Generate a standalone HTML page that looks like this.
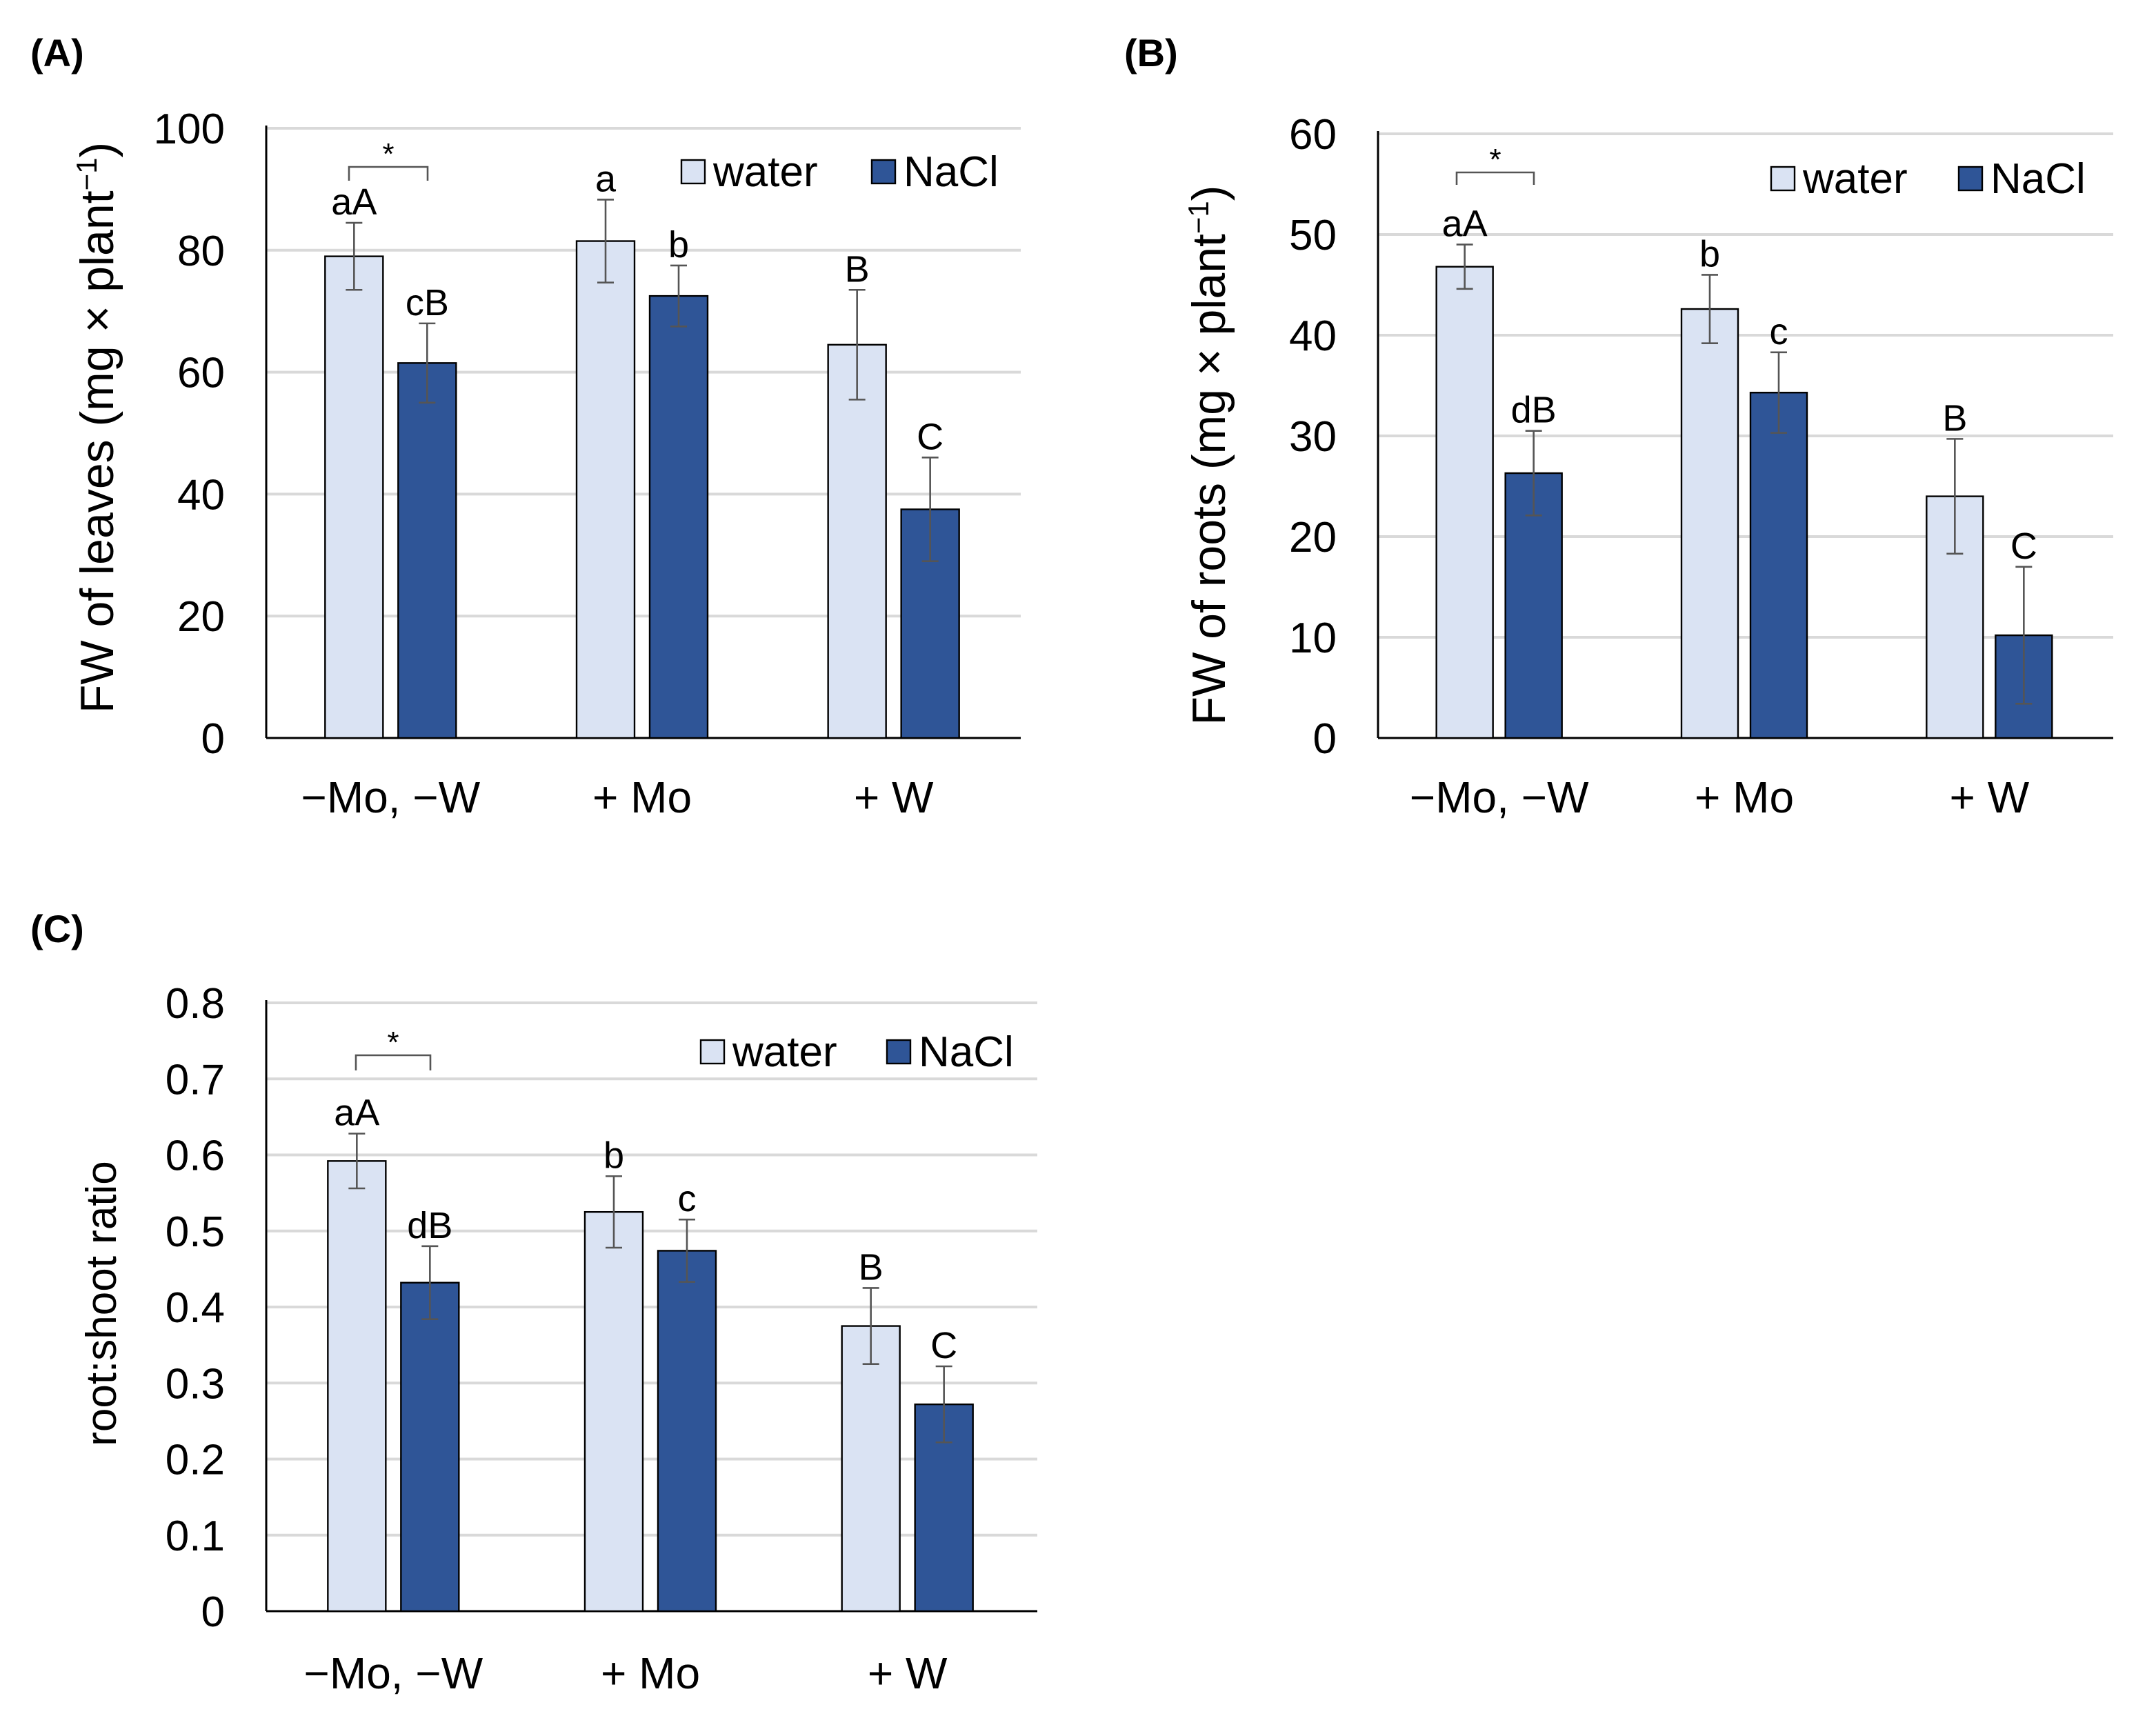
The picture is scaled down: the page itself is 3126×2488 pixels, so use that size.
<!DOCTYPE html>
<html><head><meta charset="utf-8"><style>
html,body{margin:0;padding:0;background:#fff}
svg{display:block}
text{font-family:"Liberation Sans",Arial,sans-serif;fill:#000}
</style></head><body>
<svg id="chart" width="3126" height="2488" viewBox="0 0 1563 1244" xmlns="http://www.w3.org/2000/svg"></svg>
<script>
const categories = ["\u2212Mo, \u2212W", "+ Mo", "+ W"];
const seriesNames = ["water", "NaCl"];
const aWater = [79, 81.5, 64.5];
const aNacl = [61.5, 72.5, 37.5];
const aWaterErr = [5.5, 6.8, 9];
const aNaclErr = [6.5, 5, 8.5];
const aWaterLbl = ["aA", "a", "B"];
const aNaclLbl = ["cB", "b", "C"];
const aTicks = [0, 20, 40, 60, 80, 100];
const bWater = [46.8, 42.6, 24];
const bNacl = [26.3, 34.3, 10.2];
const bWaterErr = [2.2, 3.4, 5.7];
const bNaclErr = [4.2, 4, 6.8];
const bWaterLbl = ["aA", "b", "B"];
const bNaclLbl = ["dB", "c", "C"];
const bTicks = [0, 10, 20, 30, 40, 50, 60];
const cWater = [0.592, 0.525, 0.375];
const cNacl = [0.432, 0.474, 0.272];
const cWaterErr = [0.036, 0.047, 0.05];
const cNaclErr = [0.048, 0.041, 0.05];
const cWaterLbl = ["aA", "b", "B"];
const cNaclLbl = ["dB", "c", "C"];
const cTicks = ["0", "0.1", "0.2", "0.3", "0.4", "0.5", "0.6", "0.7", "0.8"];

const NS = "http://www.w3.org/2000/svg";
const svg = document.getElementById("chart");
function mk(tag, attrs, parent, txt) {
  const e = document.createElementNS(NS, tag);
  for (const k in attrs) e.setAttribute(k, attrs[k]);
  if (txt !== undefined) e.textContent = txt;
  (parent || svg).appendChild(e);
  return e;
}
function panel(o) {
  const g = mk("g", {});
  
  
  const ymax = parseFloat(o.ticks[o.ticks.length - 1]);
  const y = v => o.y0 - (v / ymax) * (o.y0 - o.yTop);
  const cw = (o.x1 - o.x0) / categories.length;
  const bw = o.bw, gap = o.gap;
  o.ticks.forEach(t => {
    const v = parseFloat(t);
    if (v > 0) { const gl = mk("line", {x1:o.x0, x2:o.x1, y1:y(v), y2:y(v), stroke:"#d9d9d9", "stroke-width":2}, g);
        }
    const tl = mk("text", {x:o.x0 - 30, y:y(v) + 11, "text-anchor":"end", "font-size":31}, g, t);
     
  });
  const ax = mk("line", {x1:o.x0, x2:o.x0, y1:o.yTop - 2, y2:o.y0, stroke:"#000", "stroke-width":1.5}, g);
   
  const xa = mk("line", {x1:o.x0, x2:o.x1, y1:o.y0, y2:o.y0, stroke:"#000", "stroke-width":1.5}, g);
   
  const series = [[o.w, o.we, o.wl, "#dae3f3"], [o.n, o.ne, o.nl, "#2f5597"]];
  categories.forEach((c, i) => {
    const cx = o.x0 + cw * (i + 0.5) + o.shift;
    series.forEach((s, j) => {
      const bx = j === 0 ? cx - gap / 2 - bw : cx + gap / 2;
      const v = s[0][i], e = s[1][i];
      const r = mk("rect", {x:bx, y:y(v), width:bw, height:o.y0 - y(v), fill:s[3], stroke:"#000", "stroke-width":1.2}, g);
      
      
      const mx = bx + bw / 2;
      const eb = mk("path", {d:`M${mx} ${y(v+e)}V${y(v-e)}M${mx-6} ${y(v+e)}H${mx+6}M${mx-6} ${y(v-e)}H${mx+6}`, stroke:"#555", "stroke-width":1.3, fill:"none"}, g);
      
      
      const lt = mk("text", {x:mx, y:y(v + e) - 6, "text-anchor":"middle", "font-size":27}, g, s[2][i]);
      
      
    });
    const cl = mk("text", {x:cx, y:o.catY, "text-anchor":"middle", "font-size":32}, g, c);
    
    
  });
  const sb = mk("path", {d:`M${o.br[0]} ${o.br[3]}V${o.br[2]}H${o.br[1]}V${o.br[3]}`, stroke:"#555", "stroke-width":1.3, fill:"none"}, g);
   
  const st = mk("text", {x:(o.br[0]+o.br[1])/2, y:o.br[2] - 2, "text-anchor":"middle", "font-size":22}, g, "*");
   
  [[o.leg[0], "#dae3f3", "water"], [o.leg[1], "#2f5597", "NaCl"]].forEach(([lx, col, nm]) => {
    const lb = mk("rect", {x:lx, y:o.leg[2] - 19, width:17, height:17, fill:col, stroke:"#000", "stroke-width":1.2}, g);
     
    const lt = mk("text", {x:lx + 23, y:o.leg[2], "font-size":31}, g, nm);
     
  });
  const yt = mk("text", {x:0, y:0, "text-anchor":"middle", "font-size":o.ytSize, transform:`translate(${o.yt[0]},${o.yt[1]}) rotate(-90)`}, g);
  yt.innerHTML = o.ytHtml;
   
  const pl = mk("text", {x:o.pl[0], y:o.pl[1], "font-size":28, "font-weight":"bold"}, g, o.plText);
   
}
panel({name:"panel-a", x0:193, x1:740, y0:535, yTop:93, ticks:aTicks, bw:42, gap:11, shift:-1,
  w:aWater, n:aNacl, we:aWaterErr, ne:aNaclErr, wl:aWaterLbl, nl:aNaclLbl, catY:589,
  br:[253,310,121,131], leg:[494,632,135], yt:[82,310], ytSize:34,
  ytHtml:'FW of leaves (mg × plant<tspan dy="-12" font-size="21">−1</tspan><tspan dy="12">)</tspan>',
  pl:[22,48], plText:"(A)"});
panel({name:"panel-b", x0:999, x1:1532, y0:535, yTop:97, ticks:bTicks, bw:41, gap:9, shift:-1,
  w:bWater, n:bNacl, we:bWaterErr, ne:bNaclErr, wl:bWaterLbl, nl:bNaclLbl, catY:589,
  br:[1056,1112,125,134], leg:[1284,1420,140], yt:[888,330], ytSize:34,
  ytHtml:'FW of roots (mg × plant<tspan dy="-12" font-size="21">−1</tspan><tspan dy="12">)</tspan>',
  pl:[815,48], plText:"(B)"});
panel({name:"panel-c", x0:193, x1:752, y0:1168, yTop:727, ticks:cTicks, bw:42, gap:11, shift:-1,
  w:cWater, n:cNacl, we:cWaterErr, ne:cNaclErr, wl:cWaterLbl, nl:cNaclLbl, catY:1224,
  br:[258,312,765,776], leg:[508,643,773], yt:[84,945], ytSize:31,
  ytHtml:'root:shoot ratio', pl:[22,683], plText:"(C)"});
</script>
</body></html>
